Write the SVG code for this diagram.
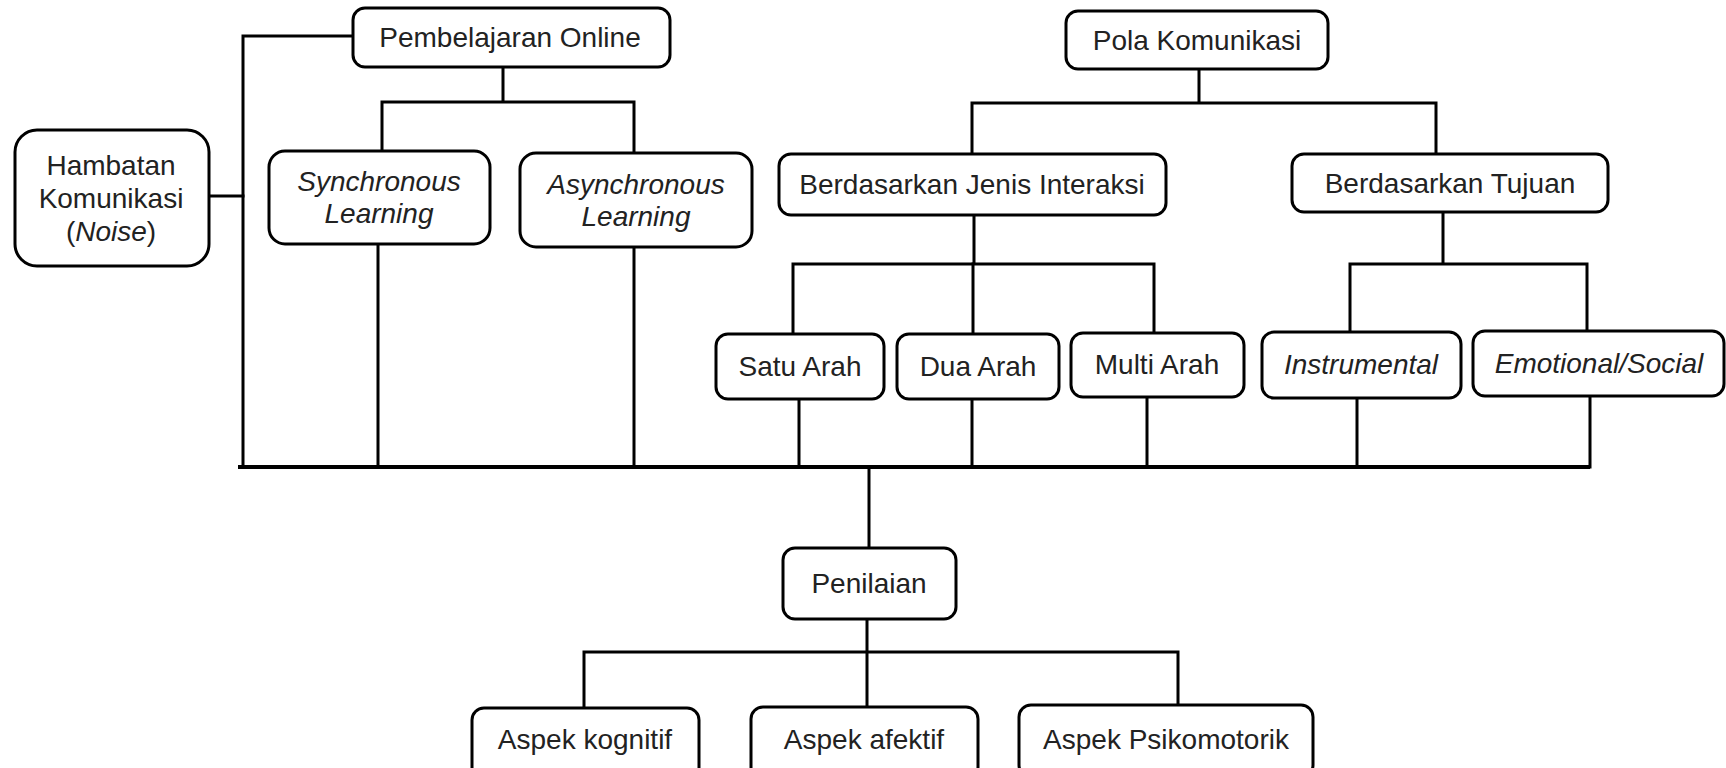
<svg xmlns="http://www.w3.org/2000/svg" width="1726" height="768" viewBox="0 0 1726 768">
<style>
.box{fill:#fff;stroke:#000;stroke-width:3}
.t{font-family:"Liberation Sans",Arial,sans-serif;font-size:28px;fill:#222;text-anchor:middle}
.i{font-style:italic}
.c{stroke:#000;stroke-width:3;fill:none;stroke-linecap:square}
</style>
<rect width="1726" height="768" fill="#fff"/>
<g id="connectors">
<path class="c" d="M353 36H243V467"/>
<path class="c" d="M210 196H243"/>
<path class="c" d="M503 67V102M382 151V102H634V153"/>
<path class="c" d="M378 244V467M634 247V467"/>
<path class="c" d="M1199 69V103M972 154V103H1436V154"/>
<path class="c" d="M974 215V264M793 334V264H1154V333"/>
<path class="c" d="M973 264V334"/>
<path class="c" d="M1443 212V264M1350 332V264H1587V331"/>
<path class="c" d="M799 399V467M972 399V467M1147 397V467M1357 398V467M1590 396V467"/>
<path d="M238 467H1590" stroke="#000" stroke-width="4"/>
<path class="c" d="M869 467V548"/>
<path class="c" d="M867 619V652M584 708V652H1178V705M867 652V707"/>
</g>
<g id="pembelajaran-online"><rect class="box" x="353" y="8" width="317" height="59" rx="12"/><text class="t" x="510" y="47">Pembelajaran Online</text></g>
<g id="pola-komunikasi"><rect class="box" x="1066" y="11" width="262" height="58" rx="12"/><text class="t" x="1197" y="50">Pola Komunikasi</text></g>
<g id="hambatan"><rect class="box" x="15" y="130" width="194" height="136" rx="22"/><text class="t" x="111" y="175">Hambatan</text><text class="t" x="111" y="208">Komunikasi</text><text class="t" x="111" y="241">(<tspan class="i">Noise</tspan>)</text></g>
<g id="synchronous"><rect class="box" x="269" y="151" width="221" height="93" rx="16"/><text class="t i" x="379" y="191">Synchronous</text><text class="t i" x="379" y="223">Learning</text></g>
<g id="asynchronous"><rect class="box" x="520" y="153" width="232" height="94" rx="16"/><text class="t i" x="636" y="194">Asynchronous</text><text class="t i" x="636" y="226">Learning</text></g>
<g id="jenis-interaksi"><rect class="box" x="779" y="154" width="387" height="61" rx="12"/><text class="t" x="972" y="194">Berdasarkan Jenis Interaksi</text></g>
<g id="tujuan"><rect class="box" x="1292" y="154" width="316" height="58" rx="12"/><text class="t" x="1450" y="193">Berdasarkan Tujuan</text></g>
<g id="satu-arah"><rect class="box" x="716" y="334" width="168" height="65" rx="12"/><text class="t" x="800" y="376">Satu Arah</text></g>
<g id="dua-arah"><rect class="box" x="897" y="334" width="162" height="65" rx="12"/><text class="t" x="978" y="376">Dua Arah</text></g>
<g id="multi-arah"><rect class="box" x="1071" y="333" width="173" height="64" rx="12"/><text class="t" x="1157" y="374">Multi Arah</text></g>
<g id="instrumental"><rect class="box" x="1262" y="332" width="199" height="66" rx="12"/><text class="t i" x="1361" y="374">Instrumental</text></g>
<g id="emotional"><rect class="box" x="1473" y="331" width="251" height="65" rx="12"/><text class="t i" x="1599" y="373">Emotional/Social</text></g>
<g id="penilaian"><rect class="box" x="783" y="548" width="173" height="71" rx="12"/><text class="t" x="869" y="593">Penilaian</text></g>
<g id="kognitif"><rect class="box" x="472" y="708" width="227" height="72" rx="12"/><text class="t" x="585" y="749">Aspek kognitif</text></g>
<g id="afektif"><rect class="box" x="751" y="707" width="227" height="72" rx="12"/><text class="t" x="864" y="749">Aspek afektif</text></g>
<g id="psikomotorik"><rect class="box" x="1019" y="705" width="294" height="72" rx="12"/><text class="t" x="1166" y="749">Aspek Psikomotorik</text></g>
</svg>
